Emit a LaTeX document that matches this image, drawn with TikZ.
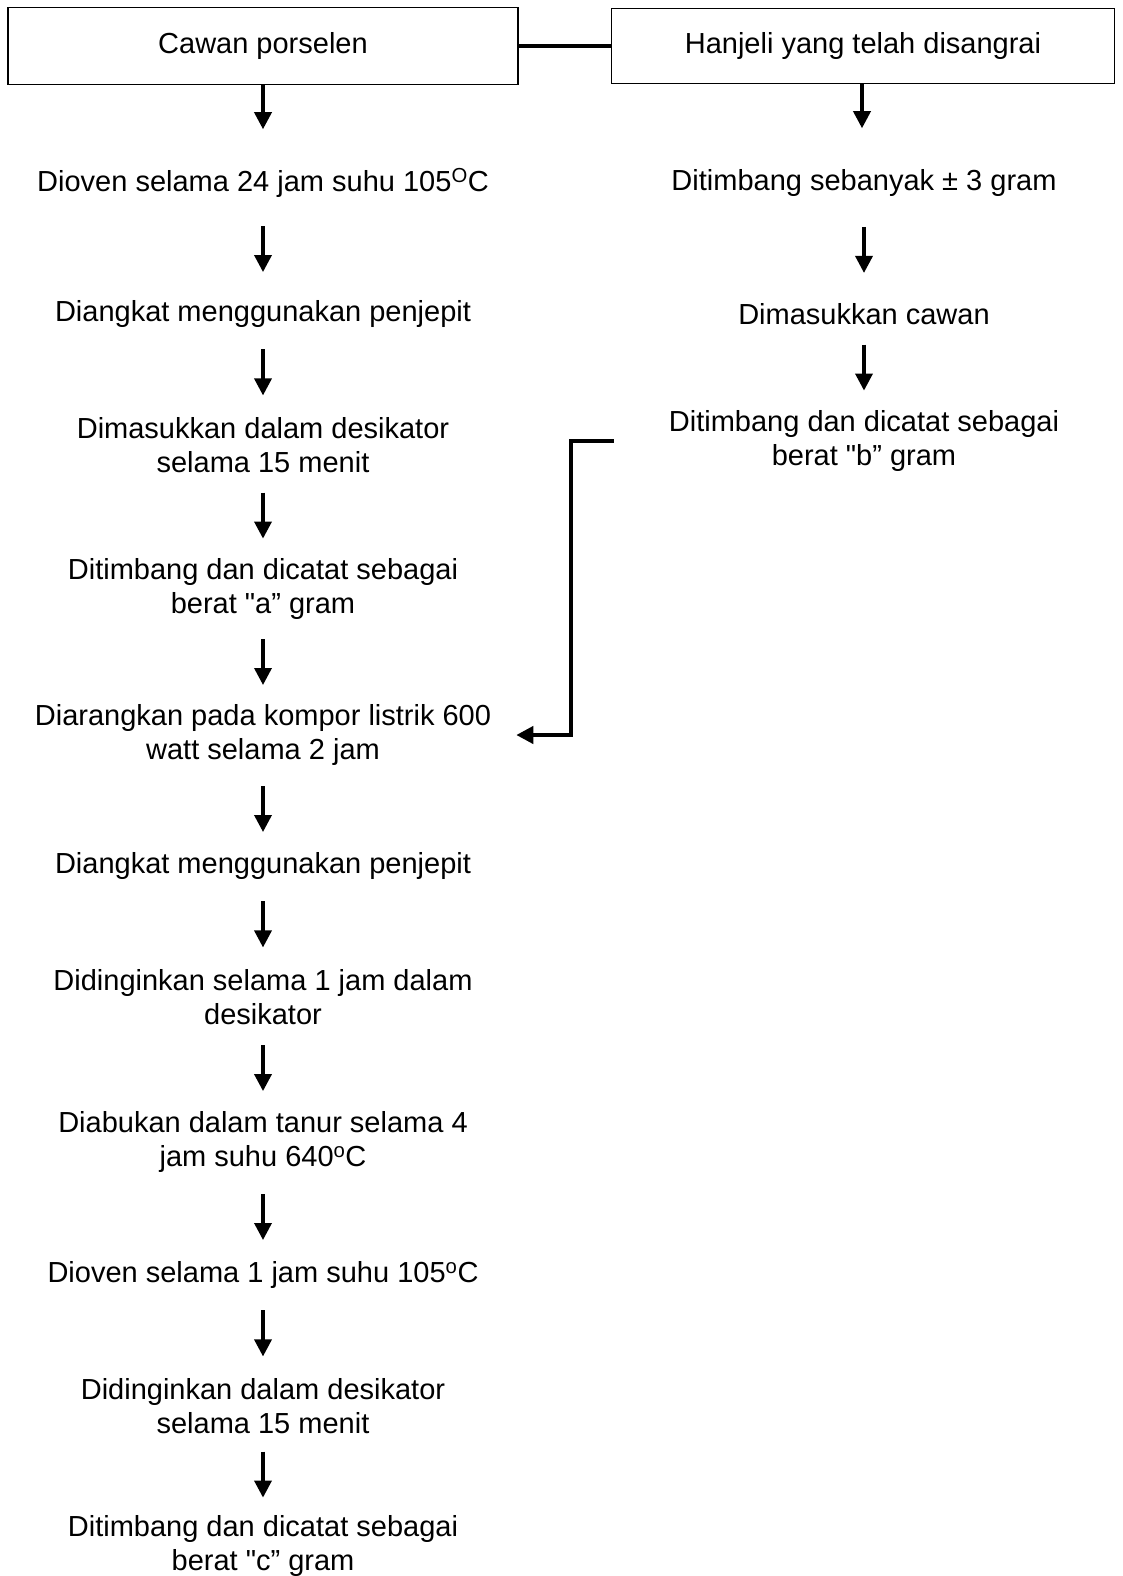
\documentclass[tikz,border=0pt]{standalone}
\usepackage{fontspec}
\setmainfont{Liberation Sans}[Ligatures=TeXOff]
\usetikzlibrary{arrows.meta,calc}
\tikzset{
  kotak/.style={draw, line width=1.5pt, inner sep=0pt},
  langkah/.style={align=center, inner sep=0pt, font=\fontsize{29}{34}\selectfont},
  panah/.style={line width=3.5pt, -{Triangle[length=17pt,width=17pt]}},
}
\begin{document}
\begin{tikzpicture}[x=1pt,y=-1pt]
    \useasboundingbox (0,0) rectangle (1122,1576);
    % kotak awal
    \node[kotak, langkah, minimum width=510pt, minimum height=77pt] (cawan) at (263,46) {Cawan porselen};
    \node[kotak, langkah, minimum width=503pt, minimum height=75pt] (hanjeli) at (863,46) {Hanjeli yang telah disangrai};
    \draw[line width=4pt] (cawan.east) -- (cawan.east -| hanjeli.west);
    % kolom kiri
    \node[langkah] (l1) at (263,183) {Dioven selama 24 jam suhu 105\textsuperscript{O}C};
    \node[langkah] (l2) at (263,314) {Diangkat menggunakan penjepit};
    \node[langkah] (l3) at (263,445) {Dimasukkan dalam desikator\\selama 15 menit};
    \node[langkah] (l4) at (263,589) {Ditimbang dan dicatat sebagai\\berat "a” gram};
    \node[langkah] (l5) at (263,735) {Diarangkan pada kompor listrik 600\\watt selama 2 jam};
    \node[langkah] (l6) at (263,866) {Diangkat menggunakan penjepit};
    \node[langkah] (l7) at (263,997) {Didinginkan selama 1 jam dalam\\desikator};
    \node[langkah] (l8) at (263,1142) {Diabukan dalam tanur selama 4\\jam suhu 640\textsuperscript{o}C};
    \node[langkah] (l9) at (263,1275) {Dioven selama 1 jam suhu 105\textsuperscript{o}C};
    \node[langkah] (l10) at (263,1406) {Didinginkan dalam desikator\\selama 15 menit};
    \node[langkah] (l11) at (263,1546) {Ditimbang dan dicatat sebagai\\berat "c” gram};
    % kolom kanan
    \node[langkah] (r1) at (864,183) {Ditimbang sebanyak ± 3 gram};
    \node[langkah] (r2) at (864,314) {Dimasukkan cawan};
    \node[langkah] (r3) at (864,441) {Ditimbang dan dicatat sebagai\\berat "b” gram};
    % panah
    \draw[panah] (cawan.south) -- ++(0,44);
    \draw[panah] (hanjeli.south -| 862,0) -- ++(0,44);
    \foreach \a/\b in {l1/l2, l2/l3, l3/l4, l4/l5, l5/l6, l6/l7, l7/l8, l8/l9, l9/l10, l10/l11, r1/r2, r2/r3}
        \draw[panah] ($(\a.south)!.5!(\b.north)$) ++(0,-23) -- ++(0,46);
    \draw[panah, line width=4pt] ([xshift=-55pt]r3.west) -- ++(-43,0) |- ([xshift=25pt]l5.east);
\end{tikzpicture}
\end{document}
